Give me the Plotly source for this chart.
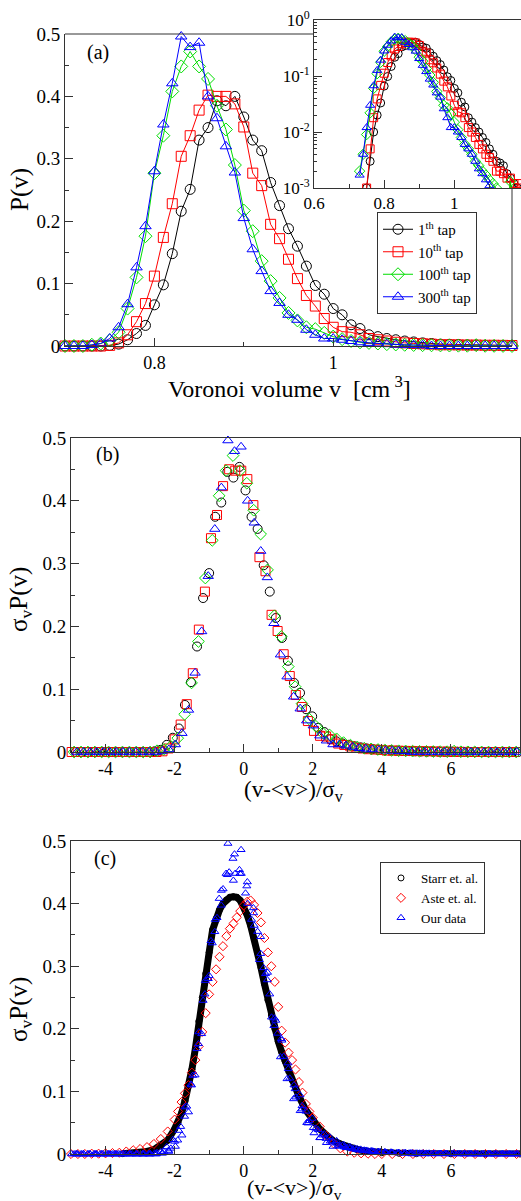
import numpy as np
import plotly.graph_objects as go

W, H = 521, 1201
FONT = "Liberation Serif, Times New Roman, DejaVu Serif, serif"

# ---------------- data ----------------
V = [0.60, 0.61, 0.62, 0.63, 0.64, 0.65, 0.66, 0.67, 0.68, 0.69,
     0.70, 0.71, 0.72, 0.73, 0.74, 0.75, 0.76, 0.77, 0.78, 0.79,
     0.80, 0.81, 0.82, 0.83, 0.84, 0.85, 0.86, 0.87, 0.88, 0.89,
     0.90, 0.91, 0.92, 0.93, 0.94, 0.95, 0.96, 0.97, 0.98, 0.99,
     1.00, 1.01, 1.02, 1.03, 1.04, 1.05, 1.06, 1.07, 1.08, 1.09,
     1.10, 1.11, 1.12, 1.13, 1.14, 1.15, 1.16, 1.17, 1.18, 1.19,
     1.20, 1.21, 1.22, 1.23, 1.24, 1.25, 1.26, 1.27, 1.28, 1.29,
     1.30, 1.31, 1.32, 1.33, 1.34, 1.35]

P_1 = [0, 0, 0, 0, 0, 0, 0, 0, 0, 0,
       0, 0, 0, 0, 0, 0.001, 0.003, 0.010, 0.020, 0.033,
       0.066, 0.098, 0.148, 0.216, 0.251, 0.330, 0.350, 0.393, 0.385, 0.400,
       0.367, 0.330, 0.313, 0.262, 0.225, 0.188, 0.160, 0.128, 0.097, 0.083,
       0.060, 0.050, 0.034, 0.028, 0.018, 0.015, 0.012, 0.010, 0.008, 0.0065,
       0.005, 0.004, 0.003, 0.0028, 0.0025, 0.0018, 0.0015, 0.0012, 0.001, 0.0008,
       0.0006, 0.0005, 0.0004, 0.0003, 0.0002, 0.0002, 0.0001, 0.0001, 0, 0,
       0, 0, 0, 0, 0, 0]

P_10 = [0, 0, 0, 0, 0, 0, 0, 0, 0, 0,
        0, 0, 0, 0, 0, 0.001, 0.005, 0.018, 0.039, 0.068,
        0.112, 0.174, 0.228, 0.304, 0.337, 0.378, 0.402, 0.400, 0.400, 0.388,
        0.351, 0.277, 0.257, 0.195, 0.172, 0.139, 0.108, 0.081, 0.064, 0.044,
        0.030, 0.023, 0.022, 0.018, 0.012, 0.010, 0.008, 0.006, 0.005, 0.004,
        0.0035, 0.003, 0.002, 0.002, 0.0018, 0.0015, 0.0015, 0.0012, 0.0012, 0.001,
        0.0008, 0.0005, 0.0004, 0.0003, 0.0002, 0.0001, 0, 0, 0, 0,
        0, 0, 0, 0, 0, 0]

P_100 = [0, 0, 0, 0, 0, 0, 0, 0, 0, 0,
         0, 0, 0, 0.002, 0.004, 0.009, 0.022, 0.060, 0.110, 0.176,
         0.277, 0.337, 0.408, 0.448, 0.472, 0.448, 0.428, 0.385, 0.347, 0.290,
         0.217, 0.184, 0.136, 0.104, 0.077, 0.053, 0.041, 0.030, 0.027, 0.021,
         0.015, 0.011, 0.008, 0.006, 0.005, 0.004, 0.003, 0.0025, 0.002, 0.0017,
         0.0014, 0.0012, 0.001, 0.0008, 0.0006, 0.0005, 0.0013, 0.0004, 0.0003, 0.0002,
         0.0001, 0, 0, 0, 0, 0, 0, 0, 0, 0,
         0, 0, 0, 0, 0, 0]

P_300 = [0, 0, 0, 0, 0, 0, 0, 0, 0, 0,
         0, 0, 0, 0.0017, 0.004, 0.012, 0.030, 0.067, 0.126, 0.192,
         0.280, 0.355, 0.421, 0.496, 0.479, 0.486, 0.400, 0.365, 0.320, 0.278,
         0.205, 0.155, 0.120, 0.088, 0.069, 0.050, 0.042, 0.026, 0.018, 0.012,
         0.012, 0.010, 0.008, 0.006, 0.005, 0.004, 0.003, 0.0022, 0.0018, 0.0014,
         0.0011, 0, 0, 0, 0, 0, 0, 0, 0, 0,
         0, 0, 0, 0, 0, 0, 0, 0, 0, 0,
         0, 0, 0, 0, 0, 0]

SERIES_P = [P_1, P_10, P_100, P_300]
LABELS_A = ["1<sup>th</sup> tap", "10<sup>th</sup> tap",
            "100<sup>th</sup> tap", "300<sup>th</sup> tap"]

# mean volume, width and sigma_v normalisation
MEAN_V = [0.897, 0.884, 0.8555, 0.854]
SIGMA_V = [0.057, 0.057, 0.050, 0.0526]
SCALE_B = [1.135, 1.12, 1.0, 1.0]

STARR_X = [-3.5, -3.0, -2.8, -2.6, -2.4, -2.2, -2.0, -1.9, -1.8, -1.7, -1.6, -1.5,
           -1.4, -1.3, -1.2, -1.1, -1.0, -0.9, -0.8, -0.7, -0.6, -0.5, -0.4, -0.3,
           -0.2, -0.1, 0.0, 0.1, 0.2, 0.3, 0.4, 0.5, 0.6, 0.7, 0.8, 0.9, 1.0, 1.1,
           1.2, 1.3, 1.4, 1.5, 1.6, 1.8, 2.0, 2.2, 2.4, 2.6, 2.8, 3.0, 3.3, 3.6,
           4.0, 4.5, 5.0, 6.0, 7.0, 8.0]
STARR_Y = [0.0005, 0.002, 0.004, 0.007, 0.013, 0.022, 0.040, 0.050, 0.065, 0.085, 0.108, 0.135,
           0.168, 0.212, 0.250, 0.288, 0.322, 0.358, 0.376, 0.390, 0.400, 0.406, 0.410, 0.411,
           0.410, 0.405, 0.395, 0.382, 0.365, 0.345, 0.322, 0.298, 0.272, 0.246, 0.222, 0.200, 0.180, 0.163,
           0.148, 0.132, 0.118, 0.105, 0.092, 0.070, 0.054, 0.040, 0.030, 0.021, 0.016, 0.012, 0.007, 0.004,
           0.002, 0.001, 0.0005, 0.0002, 0.0, 0.0]

ASTE_X = [-5.0, -4.8, -4.6, -4.4, -4.2, -4.0, -3.8, -3.6, -3.4, -3.2, -3.0, -2.8, -2.6, -2.4, -2.2, -2.0,
          -1.9, -1.8, -1.7, -1.6, -1.5, -1.4, -1.3, -1.2, -1.1, -1.0,
          -0.9, -0.8, -0.7, -0.6, -0.5, -0.4, -0.3, -0.2, -0.1, 0.0,
          0.1, 0.2, 0.3, 0.4, 0.5, 0.6, 0.7, 0.8, 0.9, 1.0,
          1.1, 1.2, 1.3, 1.4, 1.5, 1.6, 1.7, 1.8, 1.9, 2.0,
          2.2, 2.4, 2.6, 2.8, 3.0, 3.2, 3.4, 3.6, 3.8, 4.0,
          4.3, 4.6, 4.9, 5.2, 5.5, 5.8, 6.1, 6.4, 6.7, 7.0, 7.3, 7.6, 7.9]
ASTE_Y = [0, 0, 0, 0.0005, 0.0005, 0.001, 0.0015, 0.002, 0.004, 0.006, 0.008, 0.011, 0.016, 0.024, 0.036, 0.055,
          0.068, 0.083, 0.097, 0.110, 0.130, 0.150, 0.172, 0.195, 0.225, 0.255,
          0.275, 0.295, 0.315, 0.332, 0.348, 0.360, 0.368, 0.378, 0.388, 0.397,
          0.403, 0.405, 0.398, 0.385, 0.370, 0.345, 0.322, 0.300, 0.275, 0.235,
          0.197, 0.178, 0.162, 0.150, 0.135, 0.115, 0.098, 0.080, 0.068, 0.058,
          0.044, 0.029, 0.017, 0.009, 0.004, 0.002, 0.001, 0.0005, 0, 0,
          0, 0, 0, 0, 0, 0, 0, 0, 0, 0, 0, 0, 0]

LABELS_C = ["Starr et. al.", "Aste et. al.", "Our data"]

COLORS = ["#000000", "#ff0000", "#00dd00", "#0000ff"]
SYMBOLS = ["circle-open", "square-open", "diamond-open", "triangle-up-open"]


# ---------------- helpers ----------------
def xd(px):
    return px / W


def yd(py):
    return 1 - py / H


fig = go.Figure()

Vn = np.array(V)

# panel (a) main
for P, lab, c, s in zip(SERIES_P, LABELS_A, COLORS, SYMBOLS):
    P = np.array(P)
    m = (Vn >= 0.695) & (Vn <= 1.205)
    fig.add_trace(go.Scatter(
        x=Vn[m], y=P[m], mode="lines+markers", name=lab,
        line=dict(color=c, width=1),
        marker=dict(symbol=s, size=10, color=c, line=dict(width=1, color=c)),
        xaxis="x", yaxis="y", cliponaxis=False, legend="legend"))

# inset (log)
for P, c, s in zip(SERIES_P, COLORS, SYMBOLS):
    P = np.array(P, dtype=float)
    m = P > 0
    fig.add_trace(go.Scatter(
        x=Vn[m], y=P[m], mode="lines+markers", showlegend=False,
        line=dict(color=c, width=1),
        marker=dict(symbol=s, size=8, color=c, line=dict(width=1, color=c)),
        xaxis="x2", yaxis="y2", cliponaxis=True))

# panel (b) scaled
scaled = []
for P, c, s, mu, sg, sc in zip(SERIES_P, COLORS, SYMBOLS, MEAN_V, SIGMA_V, SCALE_B):
    xb = (Vn - mu) / sg
    yb = sc * np.array(P)
    m = (xb >= -5.05) & (xb <= 8.05)
    scaled.append((xb[m], yb[m]))
    fig.add_trace(go.Scatter(
        x=xb[m], y=yb[m], mode="markers", showlegend=False,
        marker=dict(symbol=s, size=9, color=c, line=dict(width=1, color=c)),
        xaxis="x3", yaxis="y3", cliponaxis=False))

# panel (c)
fig.add_trace(go.Scatter(
    x=STARR_X, y=STARR_Y, mode="lines", showlegend=False,
    line=dict(color="black", width=7), xaxis="x4", yaxis="y4"))
fig.add_trace(go.Scatter(
    x=STARR_X, y=STARR_Y, mode="markers", name=LABELS_C[0],
    marker=dict(symbol="circle-open", size=6, color="black", line=dict(width=1, color="black")),
    xaxis="x4", yaxis="y4", cliponaxis=False, legend="legend2"))
fig.add_trace(go.Scatter(
    x=ASTE_X, y=ASTE_Y, mode="markers", name=LABELS_C[1],
    marker=dict(symbol="diamond-open", size=7, color="#ff0000", line=dict(width=1, color="#ff0000")),
    xaxis="x4", yaxis="y4", cliponaxis=False, legend="legend2"))
ours_x = np.concatenate([a for a, b in scaled])
ours_y = np.concatenate([b for a, b in scaled])
fig.add_trace(go.Scatter(
    x=ours_x, y=ours_y, mode="markers", name=LABELS_C[2],
    marker=dict(symbol="triangle-up-open", size=7, color="#0000ff", line=dict(width=1, color="#0000ff")),
    xaxis="x4", yaxis="y4", cliponaxis=False, legend="legend2"))

# ---------------- axes ----------------
xtickfont = dict(family=FONT, size=18, color="black")
ytickfont = dict(family=FONT, size=19, color="black")
common = dict(showgrid=False, zeroline=False, showline=True, linecolor="#333333", linewidth=1,
              ticks="inside", ticklen=8, tickwidth=1, tickcolor="#333333", automargin=False)

yaxis_lin = dict(range=[0, 0.5], tickvals=[0, 0.1, 0.2, 0.3, 0.4, 0.5],
                 ticktext=["0", "0.1", "0.2", "0.3", "0.4", "0.5"], tickfont=ytickfont,
                 minor=dict(ticks="inside", ticklen=4, tickvals=[0.05, 0.15, 0.25, 0.35, 0.45],
                            tickcolor="#333333"))
xaxis_bc = dict(range=[-5, 8], tickvals=[-4, -2, 0, 2, 4, 6, 8],
                ticktext=["-4", "-2", "0", "2", "4", "6", "8"], tickfont=xtickfont,
                minor=dict(ticks="inside", ticklen=4, tickvals=[-3, -1, 1, 3, 5, 7],
                           tickcolor="#333333"))

fig.update_layout(
    width=W, height=H, margin=dict(l=0, r=0, t=0, b=0),
    paper_bgcolor="white", plot_bgcolor="white",
    font=dict(family=FONT, color="black"),
    xaxis=dict(**common, domain=[xd(65), xd(512)], anchor="y", range=[0.7, 1.2],
               tickvals=[0.8, 1.0], ticktext=["0.8", "1"], tickfont=xtickfont,
               minor=dict(ticks="inside", ticklen=4, tickvals=[0.9, 1.1], tickcolor="#333333")),
    yaxis=dict(**common, domain=[yd(346), yd(34)], anchor="x", **yaxis_lin),
    xaxis2=dict(**common, domain=[xd(314), 1.0], anchor="y2", range=[0.6, 1.19], mirror=True,
                tickvals=[0.6, 0.8, 1.0], ticktext=["0.6", "0.8", "1"],
                tickfont=dict(family=FONT, size=17, color="black"),
                minor=dict(ticks="inside", ticklen=4, tickvals=[0.7, 0.9, 1.1], tickcolor="#333333")),
    yaxis2=dict(**common, domain=[yd(188), yd(20)], anchor="x2", type="log", range=[-3, 0],
                tickvals=[0.001, 0.01, 0.1, 1],
                ticktext=["10<sup>-3</sup>", "10<sup>-2</sup>", "10<sup>-1</sup>", "10<sup>0</sup>"],
                tickfont=dict(family=FONT, size=17, color="black"),
                minor=dict(ticks="inside", ticklen=3, dtick="D1", tickcolor="#333333")),
    xaxis3=dict(**common, domain=[xd(71), xd(520)], anchor="y3", mirror=True, **xaxis_bc),
    yaxis3=dict(**common, domain=[yd(752), yd(438)], anchor="x3", mirror=True, **yaxis_lin),
    xaxis4=dict(**common, domain=[xd(71), xd(520)], anchor="y4", mirror=True, **xaxis_bc),
    yaxis4=dict(**common, domain=[yd(1154), yd(841)], anchor="x4", mirror=True, **yaxis_lin),
    legend=dict(x=xd(377), y=yd(212), xanchor="left", yanchor="top",
                bgcolor="white", bordercolor="#333333", borderwidth=1,
                font=dict(family=FONT, size=15, color="black"), tracegroupgap=0,
                itemwidth=30),
    legend2=dict(x=xd(380), y=yd(862), xanchor="left", yanchor="top",
                 bgcolor="white", bordercolor="#333333", borderwidth=1,
                 font=dict(family=FONT, size=13, color="black"), tracegroupgap=0,
                 itemwidth=30),
)

# frame pieces of panel (a) that the inset does not cover
fig.add_shape(type="line", xref="paper", yref="paper", x0=xd(65), x1=xd(314), y0=yd(34), y1=yd(34),
              line=dict(color="#333333", width=1))
fig.add_shape(type="line", xref="paper", yref="paper", x0=xd(512), x1=xd(512), y0=yd(346), y1=yd(188),
              line=dict(color="#333333", width=1))

# ---------------- texts ----------------
def ann(text, x, y, size, angle=0):
    fig.add_annotation(text=text, x=xd(x), y=yd(y), xref="paper", yref="paper",
                       showarrow=False, textangle=angle, xanchor="center", yanchor="middle",
                       font=dict(family=FONT, size=size, color="black"))


ann("(a)", 98, 52, 20)
ann("(b)", 107, 455, 20)
ann("(c)", 105, 858, 20)
ann("P(v)", 20, 190, 25, -90)
ann("σ<sub>v</sub>P(v)", 20, 600, 25, -90)
ann("σ<sub>v</sub>P(v)", 20, 1010, 25, -90)
ann("Voronoi volume v  [cm<sup> 3</sup>]", 289, 387, 24)
ann("(v-&lt;v&gt;)/σ<sub>v</sub>", 294, 791, 23)
ann("(v-&lt;v&gt;)/σ<sub>v</sub>", 294, 1189, 22)

fig.write_html("out.html", config={"displayModeBar": False},
               post_script="document.body.style.margin='0px';document.body.style.overflow='hidden';")
